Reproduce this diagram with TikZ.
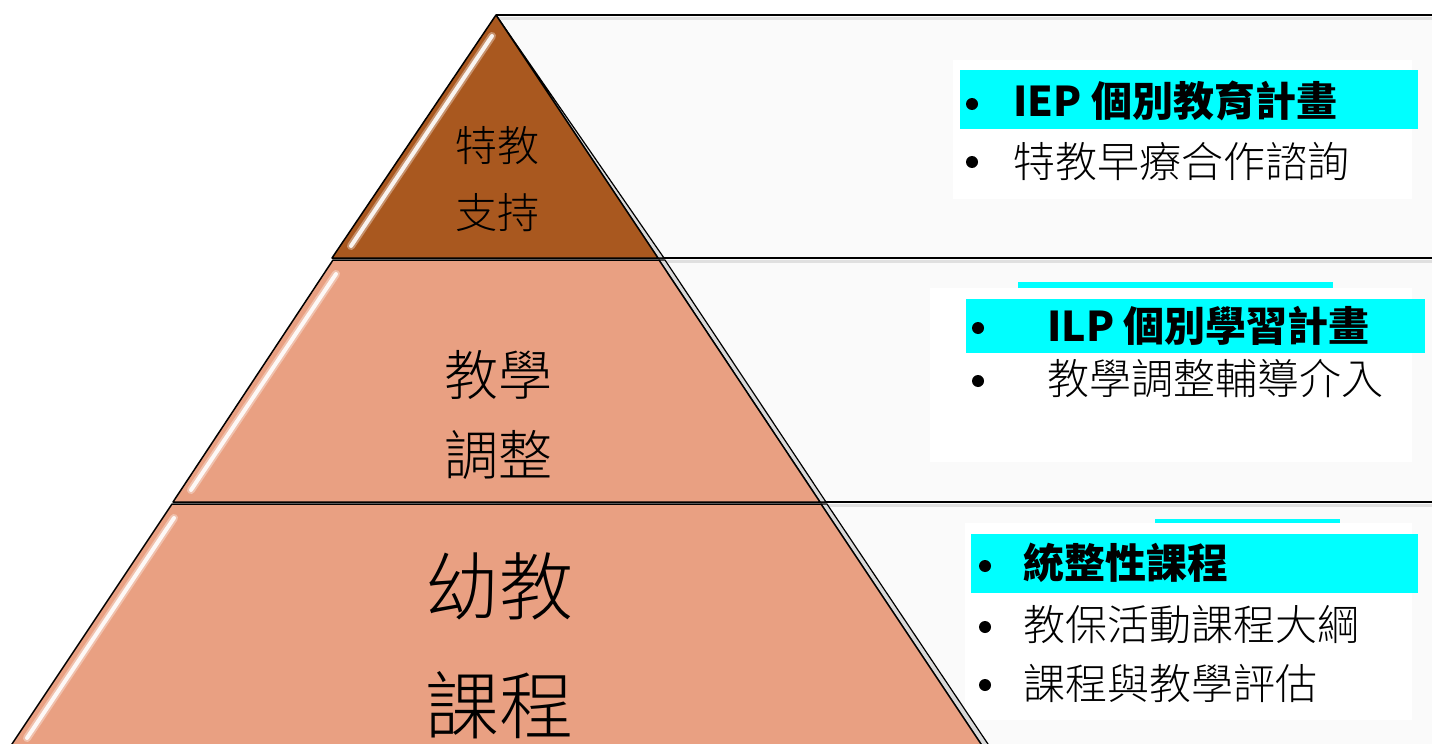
\documentclass[tikz,border=0pt]{standalone}
\usepackage{fontspec}
\setmainfont{Noto Sans CJK TC}
\IfFontExistsTF{Noto Sans CJK TC Light}
  {\newfontfamily\lightcjk{Noto Sans CJK TC Light}}
  {\newfontfamily\lightcjk{Noto Sans CJK TC}}
\definecolor{brownT}{RGB}{169,88,31}
\definecolor{salmon}{RGB}{233,160,130}
\definecolor{panelgray}{RGB}{250,250,250}
\definecolor{hicyan}{RGB}{0,255,255}
\tikzset{
  rowline/.style={line width=1pt, draw=black},
  rowshadow/.style={line width=1.5pt, draw=black!12},
  tier/.style={draw=black, line width=0.75pt, line join=round},
  sliver/.style={draw=black, line width=0.6pt, fill=black!15, line join=round},
  gloss/.style={draw=white, line width=2pt, line cap=round, opacity=0.9},
  glossedge/.style={draw=white, line width=4pt, line cap=round, opacity=0.35},
  pyrtext/.style={align=center, inner sep=0pt, text=black, font=\lightcjk},
  bul/.style={circle, fill=black, draw=none, inner sep=0pt, minimum size=6pt},
  itm/.style={anchor=west, inner sep=0pt, font=\lightcjk\fontsize{21}{25}\selectfont},
  itmb/.style={anchor=west, inner sep=0pt, font=\fontsize{20.5}{25}\selectfont\bfseries}
}
\begin{document}
\begin{tikzpicture}[x=0.5pt,y=-0.5pt]
\useasboundingbox (0,0) rectangle (1432,744);
\clip (0,0) rectangle (1432,744);
\fill[white] (0,0) rectangle (1432,744);

% right panels
\fill[panelgray] (496,15) rectangle (1440,258);
\fill[panelgray] (496,258) rectangle (1440,502);
\fill[panelgray] (496,502) rectangle (1440,760);
\draw[rowshadow] (496,18) -- (1440,18);
\draw[rowshadow] (640,261) -- (1440,261);
\draw[rowshadow] (800,505) -- (1440,505);
\draw[rowline] (496,15) -- (1440,15);
\draw[rowline] (640,258) -- (1440,258);
\draw[rowline] (800,502) -- (1440,502);

% row 1 texts
\fill[white] (953,60) rectangle (1412,199);
\fill[hicyan] (960,70) rectangle (1418,129);
\node[bul] (b11) at (972,104) {};
\node[itmb] (i11) at (1013,101) {IEP 個別教育計畫};
\node[bul] (b12) at (972,162) {};
\node[itm] (i12) at (1013,161) {特教早療合作諮詢};

% row 2 texts
\fill[white] (930,288) rectangle (1412,462);
\fill[hicyan] (1018,282) rectangle (1333,288);
\fill[hicyan] (966,299) rectangle (1425,353);
\node[bul] (b21) at (978,328) {};
\node[itmb] (i21) at (1047,326) {ILP 個別學習計畫};
\node[bul] (b22) at (978,381) {};
\node[itm] (i22) at (1047,379) {教學調整輔導介入};

% row 3 texts
\fill[hicyan] (1155,519) rectangle (1340,523);
\fill[white] (965,523) rectangle (1412,720);
\fill[hicyan] (971,534) rectangle (1418,593);
\node[bul] (b31) at (985,566) {};
\node[itmb] (i31) at (1023,563) {統整性課程};
\node[bul] (b32) at (985,627) {};
\node[itm] (i32) at (1023,625) {教保活動課程大綱};
\node[bul] (b33) at (985,685) {};
\node[itm] (i33) at (1023,683) {課程與教學評估};

% pyramid: bottom tier
\filldraw[sliver] (821,504) -- (827,504) -- (992,750) -- (985,750) -- cycle;
\filldraw[tier, fill=salmon] (172,504) -- (821,504) -- (985,750) -- (8,750) -- cycle;
\draw[glossedge] (174,518) -- (27,738);
\draw[gloss] (174,518) -- (27,738);
% middle tier
\filldraw[sliver] (659,260) -- (665,260) -- (826,502) -- (820,502) -- cycle;
\filldraw[tier, fill=salmon] (333,260) -- (659,260) -- (820,502) -- (173,502) -- cycle;
\draw[glossedge] (336,274) -- (191,490);
\draw[gloss] (336,274) -- (191,490);
% top tier
\filldraw[sliver] (496,15) -- (664,258) -- (658,258) -- cycle;
\filldraw[tier, fill=brownT] (496,15) -- (658,258) -- (332,258) -- cycle;
\draw[glossedge] (492,36) -- (351,246);
\draw[gloss] (492,36) -- (351,246);

% pyramid labels
\node[pyrtext, font=\lightcjk\fontsize{21}{33.5}\selectfont] (t1) at (497,179) {特教\\支持};
\node[pyrtext, font=\lightcjk\fontsize{27}{40}\selectfont] (t2) at (498,415) {教學\\調整};
\node[pyrtext, font=\lightcjk\fontsize{37}{59.5}\selectfont] (t3) at (499,646) {幼教\\課程};
\end{tikzpicture}
\end{document}
